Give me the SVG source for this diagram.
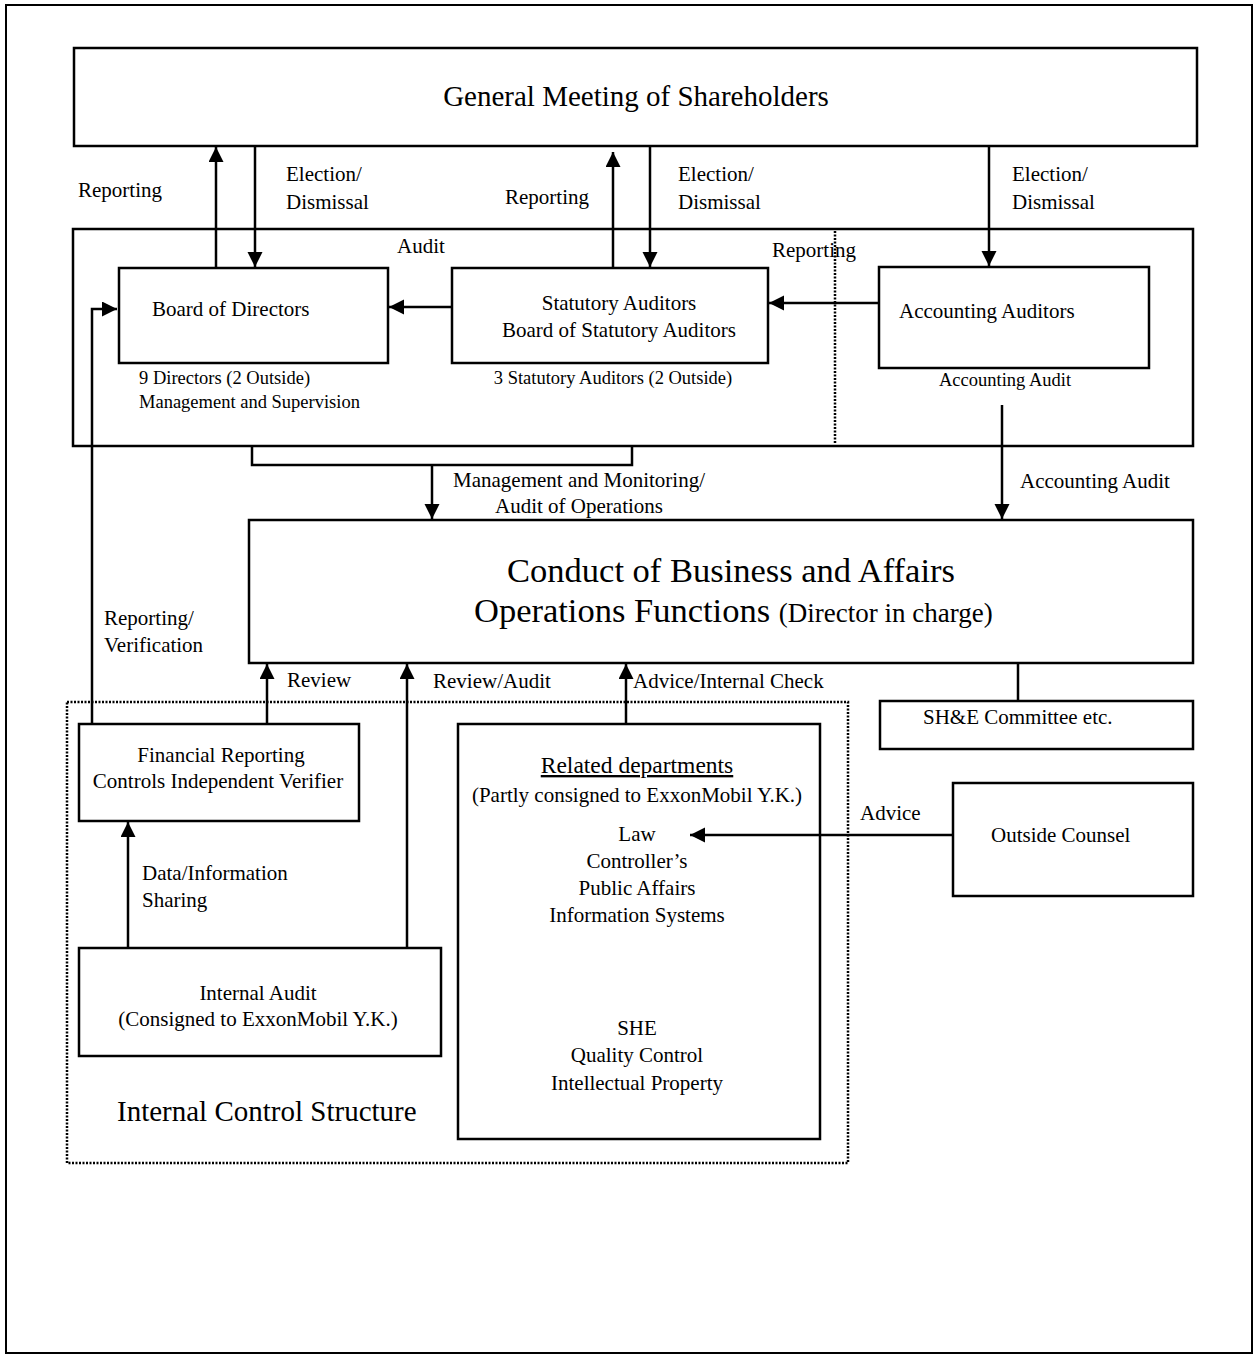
<svg xmlns="http://www.w3.org/2000/svg" width="1257" height="1358" viewBox="0 0 1257 1358">
<style>
text{font-family:"Liberation Serif","Times New Roman",serif;fill:#000}
.box{fill:#fff;stroke:#000;stroke-width:2.5}
.ln{fill:none;stroke:#000;stroke-width:2.5}
.dot{fill:none;stroke:#000;stroke-width:2.5;stroke-dasharray:2 1.5}
.lbl{font-size:21px}
.sm{font-size:18.5px}
.c{text-anchor:middle}
</style>
<defs>
<marker id="ah" markerUnits="userSpaceOnUse" markerWidth="16" markerHeight="16" refX="15" refY="7.5" orient="auto">
<path d="M0,0 L15,7.5 L0,15 z" fill="#000"/>
</marker>
</defs>
<rect x="0" y="0" width="1257" height="1358" fill="#fff"/>
<rect x="6" y="5" width="1246" height="1348" fill="none" stroke="#000" stroke-width="2"/>

<g id="gm">
<rect class="box" x="74" y="48" width="1123" height="98"/>
<text x="636" y="106" class="c" font-size="29">General Meeting of Shareholders</text>
</g>

<g id="audit-area">
<rect class="box" x="73" y="229" width="1120" height="217"/>
<line class="dot" x1="835" y1="231" x2="835" y2="444" stroke-width="2"/>
</g>

<g id="bod">
<rect class="box" x="119" y="268" width="269" height="95"/>
<text x="152" y="316" class="lbl">Board of Directors</text>
<text x="139" y="384" class="sm">9 Directors (2 Outside)</text>
<text x="139" y="408" class="sm">Management and Supervision</text>
</g>

<g id="sa">
<rect class="box" x="452" y="268" width="316" height="95"/>
<text x="619" y="310" class="lbl c">Statutory Auditors</text>
<text x="619" y="337" class="lbl c">Board of Statutory Auditors</text>
<text x="613" y="384" class="sm c">3 Statutory Auditors (2 Outside)</text>
</g>

<g id="aa">
<rect class="box" x="879" y="267" width="270" height="101"/>
<text x="899" y="318" class="lbl">Accounting Auditors</text>
<text x="939" y="386" class="sm">Accounting Audit</text>
</g>

<g id="conduct">
<rect class="box" x="249" y="520" width="944" height="143"/>
<text x="731" y="582" class="c" font-size="34.5">Conduct of Business and Affairs</text>
<text x="474" y="622" font-size="34.5">Operations Functions <tspan font-size="27">(Director in charge)</tspan></text>
</g>

<g id="she">
<rect class="box" x="880" y="701" width="313" height="48"/>
<text x="923" y="724" class="lbl">SH&amp;E Committee etc.</text>
</g>

<g id="ics">
<rect class="dot" x="67" y="702" width="781" height="461"/>
<text x="117" y="1121" font-size="29">Internal Control Structure</text>
</g>

<g id="frciv">
<rect class="box" x="79" y="724" width="280" height="97"/>
<text x="221" y="762" class="lbl c">Financial Reporting</text>
<text x="218" y="788" class="lbl c">Controls Independent Verifier</text>
</g>

<g id="ia">
<rect class="box" x="79" y="948" width="362" height="108"/>
<text x="258" y="1000" class="lbl c">Internal Audit</text>
<text x="258" y="1026" class="lbl c">(Consigned to ExxonMobil Y.K.)</text>
</g>

<g id="rd">
<rect class="box" x="458" y="724" width="362" height="415"/>
<text x="637" y="773" class="c" font-size="23.5" text-decoration="underline">Related departments</text>
<text x="637" y="802" class="lbl c">(Partly consigned to ExxonMobil Y.K.)</text>
<text x="637" y="841" class="lbl c">Law</text>
<text x="637" y="868" class="lbl c">Controller’s</text>
<text x="637" y="895" class="lbl c">Public Affairs</text>
<text x="637" y="922" class="lbl c">Information Systems</text>
<text x="637" y="1035" class="lbl c">SHE</text>
<text x="637" y="1062" class="lbl c">Quality Control</text>
<text x="637" y="1090" class="lbl c">Intellectual Property</text>
</g>

<g id="oc">
<rect class="box" x="953" y="783" width="240" height="113"/>
<text x="991" y="842" class="lbl">Outside Counsel</text>
</g>

<g id="connectors">
<line class="ln" x1="216" y1="268" x2="216" y2="147" marker-end="url(#ah)"/>
<line class="ln" x1="255" y1="147" x2="255" y2="267" marker-end="url(#ah)"/>
<line class="ln" x1="613" y1="268" x2="613" y2="152" marker-end="url(#ah)"/>
<line class="ln" x1="650" y1="147" x2="650" y2="267" marker-end="url(#ah)"/>
<line class="ln" x1="989" y1="147" x2="989" y2="266" marker-end="url(#ah)"/>
<line class="ln" x1="452" y1="307" x2="389" y2="307" marker-end="url(#ah)"/>
<line class="ln" x1="879" y1="303" x2="769" y2="303" marker-end="url(#ah)"/>
<line class="ln" x1="1002" y1="405" x2="1002" y2="519" marker-end="url(#ah)"/>
<path class="ln" d="M252,446 V465 H632 V446"/>
<line class="ln" x1="432" y1="465" x2="432" y2="519" marker-end="url(#ah)"/>
<path class="ln" d="M92,724 V309 H117" marker-end="url(#ah)"/>
<line class="ln" x1="267" y1="724" x2="267" y2="664" marker-end="url(#ah)"/>
<line class="ln" x1="407" y1="948" x2="407" y2="664" marker-end="url(#ah)"/>
<line class="ln" x1="626" y1="724" x2="626" y2="664" marker-end="url(#ah)"/>
<line class="ln" x1="1018" y1="664" x2="1018" y2="701"/>
<line class="ln" x1="953" y1="835" x2="690" y2="835" marker-end="url(#ah)"/>
<line class="ln" x1="128" y1="948" x2="128" y2="822" marker-end="url(#ah)"/>

<text x="78" y="197" class="lbl">Reporting</text>
<text x="286" y="181" class="lbl">Election/</text>
<text x="286" y="209" class="lbl">Dismissal</text>
<text x="505" y="204" class="lbl">Reporting</text>
<text x="678" y="181" class="lbl">Election/</text>
<text x="678" y="209" class="lbl">Dismissal</text>
<text x="1012" y="181" class="lbl">Election/</text>
<text x="1012" y="209" class="lbl">Dismissal</text>
<text x="397" y="253" class="lbl">Audit</text>
<text x="772" y="257" class="lbl">Reporting</text>
<text x="579" y="487" class="lbl c">Management and Monitoring/</text>
<text x="579" y="513" class="lbl c">Audit of Operations</text>
<text x="1020" y="488" class="lbl">Accounting Audit</text>
<text x="104" y="625" class="lbl">Reporting/</text>
<text x="104" y="652" class="lbl">Verification</text>
<text x="287" y="687" class="lbl">Review</text>
<text x="433" y="688" class="lbl">Review/Audit</text>
<text x="633" y="688" class="lbl">Advice/Internal Check</text>
<text x="860" y="820" class="lbl">Advice</text>
<text x="142" y="880" class="lbl">Data/Information</text>
<text x="142" y="907" class="lbl">Sharing</text>
</g>
</svg>
